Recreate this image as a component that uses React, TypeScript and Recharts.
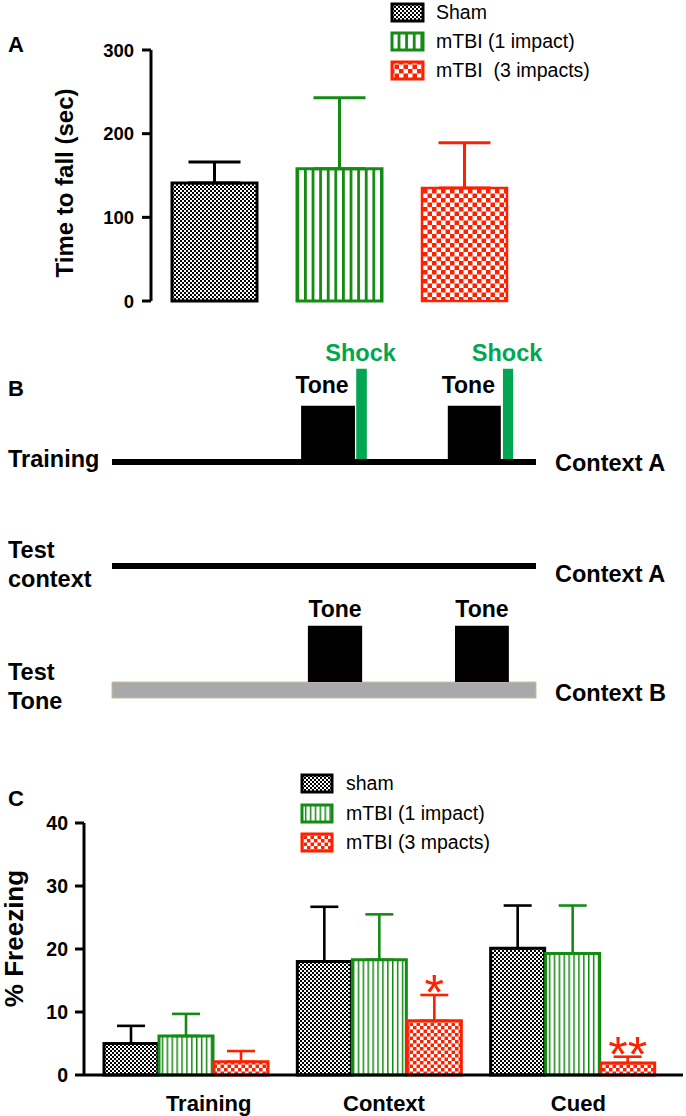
import React from "react";
import {
  BarChart,
  Bar,
  XAxis,
  YAxis,
  ErrorBar,
  Legend,
  LabelList,
  ComposedChart,
  Line,
  ReferenceArea,
} from "recharts";

const FONT = "Arial, 'Liberation Sans', Helvetica, sans-serif";
const BLACK = "#000000";
const GREEN = "#148c14";
const RED = "#ff2000";
const SHOCK_GREEN = "#00a651";
const GRAY = "#a7a9ac";

// ---- Panel A: rotarod, time to fall ----
const groupsA = ["Sham", "mTBI (1 impact)", "mTBI  (3 impacts)"];
const meansA = [141, 158, 135];
const semA = [25, 85, 54];

// ---- Panel B: fear conditioning protocol (time as % of session) ----
const sessionTimes = [0, 100];
const trainingTones = [[44.6, 57.3], [79.2, 91.7]];
const trainingShocks = [[57.6, 60.1], [92.2, 94.6]];
const testTones = [[46.2, 59.0], [80.9, 93.6]];
const rowLabels = [["Training"], ["Test", "context"], ["Test", "Tone"]];
const contextLabels = ["Context A", "Context A", "Context B"];

// ---- Panel C: % freezing ----
const phases = ["Training", "Context", "Cued"];
const groupsC = ["sham", "mTBI (1 impact)", "mTBI (3 mpacts)"];
const shamC = [5.0, 18.0, 20.1];
const oneImpactC = [6.2, 18.3, 19.3];
const threeImpactsC = [2.1, 8.6, 1.9];
const shamSemC = [2.8, 8.7, 6.8];
const oneImpactSemC = [3.5, 7.2, 7.6];
const threeImpactsSemC = [1.7, 4.1, 1.0];
const sigC = ["", "*", "**"];

// panel B layout (y axis 0..100 from bottom)
const ROW_LEVELS = [67, 38.9, 5.4];
const TONE_H = 15.2;
const SHOCK_H = 25.2;
const BAR_HALF = 2.15;
const ROW_LABEL_DY = [[-3], [-16, 12.5], [-18, 11]];
const CONTEXT_DY = [1, 8, 2.5];
const PHASE_LABEL_SHIFT = [23, 5, 6];

// chart rows
const dataA = [
  {
    name: "rotarod",
    sham: meansA[0],
    shamErr: [0, semA[0]],
    one: meansA[1],
    oneErr: [0, semA[1]],
    three: meansA[2],
    threeErr: [0, semA[2]],
  },
];

const dataB = sessionTimes.map((t) => ({ t, training: ROW_LEVELS[0], context: ROW_LEVELS[1] }));

const dataC = phases.map((phase, i) => ({
  phase,
  sham: shamC[i],
  shamErr: [0, shamSemC[i]],
  one: oneImpactC[i],
  oneErr: [0, oneImpactSemC[i]],
  three: threeImpactsC[i],
  threeErr: [0, threeImpactsSemC[i]],
  sig: sigC[i],
}));

const styleA = [
  { key: "sham", fill: "url(#shamA)", stroke: BLACK },
  { key: "one", fill: "url(#stripesA)", stroke: GREEN },
  { key: "three", fill: "url(#checkA)", stroke: RED },
];
const styleC = [
  { key: "sham", fill: "url(#shamC)", stroke: BLACK },
  { key: "one", fill: "url(#stripesC)", stroke: GREEN },
  { key: "three", fill: "url(#checkC)", stroke: RED },
];

const bTextStyle = { fontFamily: FONT, fontWeight: 700, fontSize: 23.5, fill: BLACK };

function axisTitle(text: string, dx: number, dy: number, size: number) {
  return (props: any) => {
    const vb = props.viewBox ?? { x: 0, y: 0, width: 0, height: 0 };
    const cx = vb.x + dx;
    const cy = vb.y + vb.height / 2 + dy;
    return (
      <text
        x={cx}
        y={cy}
        transform={`rotate(-90 ${cx} ${cy})`}
        textAnchor="middle"
        dominantBaseline="central"
        fontFamily={FONT}
        fontWeight={700}
        fontSize={size}
        fill={BLACK}
      >
        {text}
      </text>
    );
  };
}

function SwatchLegend({ items, w, h, rowH, gap, strokes }: any) {
  return (
    <div style={{ fontFamily: FONT, fontSize: 19.5, color: BLACK, lineHeight: 1 }}>
      {items.map((it: any, i: number) => (
        <div key={i} style={{ display: "flex", alignItems: "center", height: rowH }}>
          <svg width={w + 4} height={h + 4} style={{ display: "block" }}>
            <rect x={2} y={2} width={w} height={h} fill={it.fill} stroke={it.stroke} strokeWidth={strokes} />
          </svg>
          <span style={{ marginLeft: gap, whiteSpace: "pre" }}>{it.label}</span>
        </div>
      ))}
    </div>
  );
}

function PhaseTick(props: any) {
  const { x, y, payload } = props;
  const i = phases.indexOf(payload.value);
  return (
    <text
      x={x + (PHASE_LABEL_SHIFT[i] ?? 0)}
      y={y + 26}
      textAnchor="middle"
      dominantBaseline="central"
      fill={BLACK}
      fontFamily={FONT}
      fontSize={22}
      fontWeight={700}
    >
      {payload.value}
    </text>
  );
}

function SigLabel(props: any) {
  const vb = props.viewBox ?? props;
  const { x, y, width, height } = vb;
  const i = props.index;
  const value = props.value;
  if (!value) return null;
  const pxPerUnit = height / threeImpactsC[i];
  const capY = y - threeImpactsSemC[i] * pxPerUnit;
  const fs = 50;
  const center = capY - 13.5;
  return (
    <text x={x + width / 2} y={center + 0.573 * fs} textAnchor="middle" fill={RED} fontFamily={FONT} fontSize={fs}>
      {value}
    </text>
  );
}

function RowLabel(props: any) {
  const i = ROW_LEVELS.indexOf(props.payload.value);
  if (i < 0) return null;
  const lines = rowLabels[i];
  return (
    <text {...bTextStyle} textAnchor="start" dominantBaseline="central">
      {lines.map((ln, k) => (
        <tspan key={k} x={8} y={props.y + ROW_LABEL_DY[i][k]}>
          {ln}
        </tspan>
      ))}
    </text>
  );
}

function ContextLabel(props: any) {
  const i = ROW_LEVELS.indexOf(props.payload.value);
  if (i < 0) return null;
  return (
    <text {...bTextStyle} x={555} y={props.y + CONTEXT_DY[i]} textAnchor="start" dominantBaseline="central">
      {contextLabels[i]}
    </text>
  );
}

function aboveLabel(text: string, dx: number, off: number, color: string, size: number) {
  return (props: any) => {
    const vb = props.viewBox;
    if (!vb) return null;
    return (
      <text
        x={vb.x + vb.width / 2 + dx}
        y={vb.y - off}
        textAnchor="middle"
        fontFamily={FONT}
        fontWeight={700}
        fontSize={size}
        fill={color}
      >
        {text}
      </text>
    );
  };
}

const panelLetter = (top: number): React.CSSProperties => ({
  position: "absolute",
  left: 8,
  top,
  fontFamily: FONT,
  fontWeight: 700,
  fontSize: 22,
  lineHeight: 1,
});

export default function App() {
  return (
    <div style={{ position: "absolute", left: 0, top: 0, width: 686, height: 1116, background: "#fff", overflow: "hidden" }}>
      <div style={panelLetter(34)}>A</div>
      <div style={panelLetter(378)}>B</div>
      <div style={panelLetter(788)}>C</div>

      {/* Panel A */}
      <div style={{ position: "absolute", left: 0, top: 0 }}>
        <BarChart
          width={686}
          height={330}
          data={dataA}
          margin={{ top: 50, right: 159, bottom: 29, left: 40 }}
          barSize={85}
          barGap={40}
        >
          <defs>
            <pattern id="shamA" width={4} height={4} patternUnits="userSpaceOnUse">
              <rect width={4} height={4} fill="#fff" />
              <rect width={2} height={2} fill="#000" />
              <rect x={2} y={2} width={2} height={2} fill="#000" />
            </pattern>
            <pattern id="stripesA" width={7.6} height={10} patternUnits="userSpaceOnUse">
              <rect width={7.6} height={10} fill="#fff" />
              <rect x={0} width={2.8} height={10} fill={GREEN} />
            </pattern>
            <pattern id="checkA" width={9} height={9} patternUnits="userSpaceOnUse">
              <rect width={9} height={9} fill="#fff" />
              <rect width={4.5} height={4.5} fill={RED} />
              <rect x={4.5} y={4.5} width={4.5} height={4.5} fill={RED} />
            </pattern>
          </defs>
          <XAxis dataKey="name" tick={false} tickLine={false} height={0} axisLine={{ stroke: BLACK, strokeWidth: 3 }} />
          <YAxis
            domain={[0, 300]}
            ticks={[0, 100, 200, 300]}
            interval={0}
            width={111}
            tickSize={9}
            tickMargin={8}
            axisLine={{ stroke: BLACK, strokeWidth: 3 }}
            tickLine={{ stroke: BLACK, strokeWidth: 3 }}
            tick={{ fill: BLACK, fontSize: 18.5, fontWeight: 700, fontFamily: FONT }}
            label={axisTitle("Time to fall (sec)", 24, 7.5, 24)}
          />
          {styleA.map((s, i) => (
            <Bar key={s.key} dataKey={s.key} name={groupsA[i]} fill={s.fill} stroke={s.stroke} strokeWidth={s.key === "three" ? 2.5 : 3} isAnimationActive={false}>
              <ErrorBar dataKey={s.key + "Err"} width={26} strokeWidth={3} stroke={s.stroke} direction="y" isAnimationActive={false} />
            </Bar>
          ))}
          <Legend
            layout="vertical"
            align="center"
            verticalAlign="middle"
            wrapperStyle={{ left: 390, top: -2, width: 280, height: 90 }}
            content={() => (
              <SwatchLegend
                items={groupsA.map((label, i) => ({ label, fill: styleA[i].fill, stroke: styleA[i].stroke }))}
                w={31}
                h={17}
                rowH={29}
                gap={11}
                strokes={3}
              />
            )}
          />
        </BarChart>
      </div>

      {/* Panel B */}
      <div style={{ position: "absolute", left: 0, top: 330 }}>
        <ComposedChart width={686} height={390} data={dataB} margin={{ top: 10, right: 0, bottom: 10, left: 0 }}>
          <XAxis type="number" dataKey="t" domain={[0, 100]} hide />
          <YAxis
            yAxisId="rows"
            type="number"
            domain={[0, 100]}
            ticks={ROW_LEVELS}
            interval={0}
            width={112}
            axisLine={false}
            tickLine={false}
            tick={RowLabel}
          />
          <YAxis
            yAxisId="ctx"
            orientation="right"
            type="number"
            domain={[0, 100]}
            ticks={ROW_LEVELS}
            interval={0}
            width={150}
            axisLine={false}
            tickLine={false}
            tick={ContextLabel}
          />
          <ReferenceArea
            yAxisId="rows"
            x1={0}
            x2={100}
            y1={ROW_LEVELS[2] - BAR_HALF}
            y2={ROW_LEVELS[2] + BAR_HALF}
            fill={GRAY}
            fillOpacity={1}
            stroke="#cdbb96"
            strokeWidth={1}
          />
          <Line yAxisId="rows" dataKey="training" stroke={BLACK} strokeWidth={6} dot={false} activeDot={false} isAnimationActive={false} />
          <Line yAxisId="ctx" dataKey="context" stroke={BLACK} strokeWidth={6} dot={false} activeDot={false} isAnimationActive={false} />
          {trainingTones.map(([a, b], i) => (
            <ReferenceArea
              key={"tt" + i}
              yAxisId="rows"
              x1={a}
              x2={b}
              y1={ROW_LEVELS[0]}
              y2={ROW_LEVELS[0] + TONE_H}
              fill={BLACK}
              fillOpacity={1}
              stroke="none"
              label={aboveLabel("Tone", -6, 13, BLACK, 23)}
            />
          ))}
          {trainingShocks.map(([a, b], i) => (
            <ReferenceArea
              key={"sh" + i}
              yAxisId="rows"
              x1={a}
              x2={b}
              y1={ROW_LEVELS[0] - 0.4}
              y2={ROW_LEVELS[0] + SHOCK_H}
              fill={SHOCK_GREEN}
              fillOpacity={1}
              stroke="none"
              label={aboveLabel("Shock", -1, 8, SHOCK_GREEN, 23.5)}
            />
          ))}
          {testTones.map(([a, b], i) => (
            <ReferenceArea
              key={"ct" + i}
              yAxisId="rows"
              x1={a}
              x2={b}
              y1={ROW_LEVELS[2] + BAR_HALF}
              y2={ROW_LEVELS[2] + BAR_HALF + TONE_H}
              fill={BLACK}
              fillOpacity={1}
              stroke="none"
              label={aboveLabel("Tone", 0, 9, BLACK, 23)}
            />
          ))}
        </ComposedChart>
      </div>

      {/* Panel C */}
      <div style={{ position: "absolute", left: 0, top: 760 }}>
        <BarChart
          width={686}
          height={356}
          data={dataC}
          margin={{ top: 63, right: 3, bottom: 0, left: 14 }}
          barSize={54}
          barGap={1}
        >
          <defs>
            <pattern id="shamC" width={4} height={4} patternUnits="userSpaceOnUse">
              <rect width={4} height={4} fill="#fff" />
              <rect width={2} height={2} fill="#000" />
              <rect x={2} y={2} width={2} height={2} fill="#000" />
            </pattern>
            <pattern id="stripesC" width={4.9} height={10} patternUnits="userSpaceOnUse">
              <rect width={4.9} height={10} fill="#fff" />
              <rect x={0} width={1.5} height={10} fill={GREEN} />
            </pattern>
            <pattern id="checkC" width={7} height={7} patternUnits="userSpaceOnUse">
              <rect width={7} height={7} fill="#fff" />
              <rect width={3.5} height={3.5} fill={RED} />
              <rect x={3.5} y={3.5} width={3.5} height={3.5} fill={RED} />
            </pattern>
          </defs>
          <XAxis
            dataKey="phase"
            height={41}
            tickSize={0}
            tickLine={false}
            interval={0}
            tick={PhaseTick}
            padding={{ left: 5, right: 14 }}
            axisLine={{ stroke: BLACK, strokeWidth: 3 }}
          />
          <YAxis
            domain={[0, 40]}
            ticks={[0, 10, 20, 30, 40]}
            interval={0}
            width={70}
            tickSize={9}
            tickMargin={7}
            axisLine={{ stroke: BLACK, strokeWidth: 3 }}
            tickLine={{ stroke: BLACK, strokeWidth: 3 }}
            tick={{ fill: BLACK, fontSize: 19.5, fontWeight: 700, fontFamily: FONT }}
            label={axisTitle("% Freezing", 0, -10.5, 26)}
          />
          {styleC.map((s, i) => (
            <Bar key={s.key} dataKey={s.key} name={groupsC[i]} fill={s.fill} stroke={s.stroke} strokeWidth={3} isAnimationActive={false}>
              <ErrorBar dataKey={s.key + "Err"} width={14} strokeWidth={2.6} stroke={s.stroke} direction="y" isAnimationActive={false} />
              {s.key === "three" && <LabelList dataKey="sig" content={SigLabel} />}
            </Bar>
          ))}
          <Legend
            layout="vertical"
            align="center"
            verticalAlign="middle"
            wrapperStyle={{ left: 300, top: 9, width: 280, height: 90 }}
            content={() => (
              <SwatchLegend
                items={groupsC.map((label, i) => ({ label, fill: styleC[i].fill, stroke: styleC[i].stroke }))}
                w={30}
                h={17}
                rowH={29.5}
                gap={12}
                strokes={3}
              />
            )}
          />
        </BarChart>
      </div>
    </div>
  );
}
